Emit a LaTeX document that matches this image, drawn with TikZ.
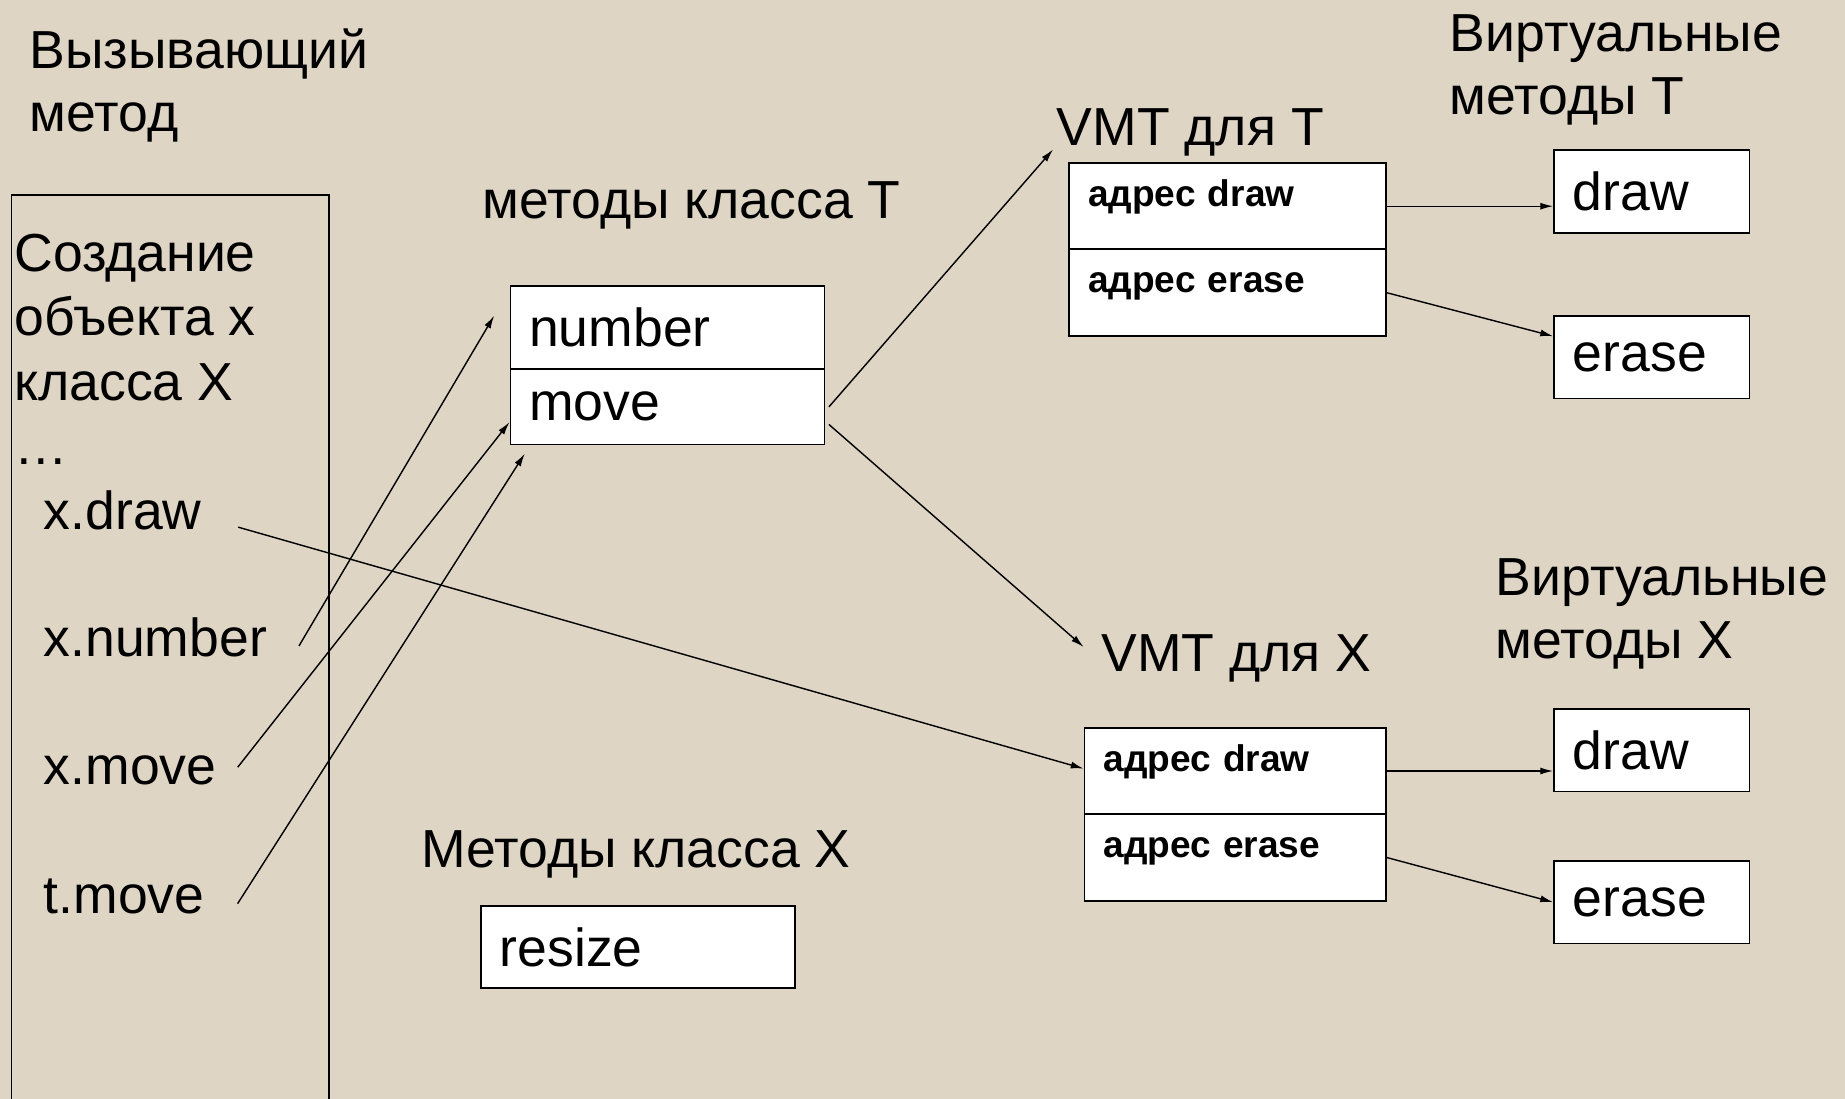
\documentclass[tikz,border=0pt]{standalone}
\usepackage{fontspec}
\setmainfont{Liberation Sans}
\usepackage{tikz}
\usetikzlibrary{positioning,calc,arrows.meta}
\definecolor{paper}{RGB}{222,213,197}
\newcommand{\bigfont}{\fontsize{45.5}{54}\selectfont}
\newcommand{\adrfont}{\fontsize{31.5}{38}\selectfont\bfseries}
\newcommand{\tnode}[3]{\node [txt] (#1) at (#2) {#3}}

\tikzset{
  txt/.style={anchor=base west, inner sep=0pt, font=\bigfont},
  frame/.style={draw, line width=1.5pt, anchor=north west, inner sep=0pt},
  cell/.style={draw, fill=white, line width=1.5pt, anchor=north west,
    inner ysep=0pt, inner xsep=16pt, align=left, font=\bigfont},
  adr/.style={cell, font=\adrfont, text height=20pt, text depth=20pt},
  ptr/.style={line width=1.2pt, -{Latex[length=11pt,width=6pt]}}
}

\begin{document}
\begin{tikzpicture}[x=1pt, y=-1pt]
\useasboundingbox (0,0) rectangle (1568,934);
\fill[paper] (0,0) rectangle (1568,934);
\clip (0,0) rectangle (1568,934);

% calling method
\tnode{CALL1}{25,58}{Вызывающий};
\tnode{CALL2}{25,112}{метод};
\node [frame, minimum width=270pt, minimum height=800pt] (CALLER) at (9,165) {};
\tnode{NEW1}{12,231}{Создание};
\tnode{NEW2}{12,285}{объекта x};
\tnode{NEW3}{12,340}{класса X};
\tnode{DOTS}{12,395}{…};
\tnode{XDRAW}{37,450}{x.draw};
\tnode{XNUM}{37,558}{x.number};
\tnode{XMOVE}{37,667}{x.move};
\tnode{TMOVE}{37,776}{t.move};

% class T
\tnode{MT}{410,186}{методы класса T};
\node [cell, text width=235pt, minimum height=71pt] (NUMBER) at (433,242) {number};
\node [cell, text width=235pt, minimum height=64pt] (MOVE) at (433,313) {move};

% class X
\tnode{MX}{358,737}{Методы класса X};
\node [cell, text width=235pt, minimum height=70pt] (RESIZE) at (408,769) {resize};

% VMT for T
\tnode{VMTT}{898,124}{VMT для T};
\node [adr, text width=237pt, minimum height=73pt] (VTD) at (908,138) {адрес draw};
\node [adr, text width=237pt, minimum height=74pt] (VTE) at (908,211) {адрес erase};

% VMT for X
\tnode{VMTX}{936,571}{VMT для X};
\node [adr, text width=224pt, minimum height=73pt] (VXD) at (921,618) {адрес draw};
\node [adr, text width=224pt, minimum height=74pt] (VXE) at (921,691) {адрес erase};

% virtual methods
\tnode{VIRT1}{1232,44}{Виртуальные};
\tnode{VIRT2}{1232,97}{методы T};
\node [cell, text width=134pt, minimum height=70pt] (DRAWT) at (1320,127) {draw};
\node [cell, text width=134pt, minimum height=70pt] (ERASET) at (1320,268) {erase};
\tnode{VIRX1}{1271,506}{Виртуальные};
\tnode{VIRX2}{1271,560}{методы X};
\node [cell, text width=134pt, minimum height=70pt] (DRAWX) at (1320,602) {draw};
\node [cell, text width=134pt, minimum height=70pt] (ERASEX) at (1320,731) {erase};

\draw[ptr] ($(XNUM.base east)+(27,-9)$) -- ($(NUMBER.west)+(-13,-10)$);
\draw[ptr] ($(XMOVE.base east)+(18,-15)$) -- ($(MOVE.west)+(0,13)$);
\draw[ptr] ($(TMOVE.base east)+(28,-8)$) -- ($(MOVE.south west)+(13,7)$);
\draw[ptr] ($(XDRAW.base east)+(31,-2)$) -- ($(VXD.west)+(0,-2)$);

\draw[ptr] ($(MOVE.east)+(3,0)$) -- ($(VMTT.base west)+(-3,3)$);
\draw[ptr] ($(MOVE.east)+(3,15)$) -- ($(VMTX.west)+(-15,-10)$);

\draw[ptr] (VTD.east) -- (VTD.east -| DRAWT.west);
\draw[ptr] (VTE.east) -- ($(ERASET.west)+(0,-18)$);
\draw[ptr] (VXD.east) -- (VXD.east -| DRAWX.west);
\draw[ptr] (VXE.east) -- (ERASEX.west);

\end{tikzpicture}
\end{document}
